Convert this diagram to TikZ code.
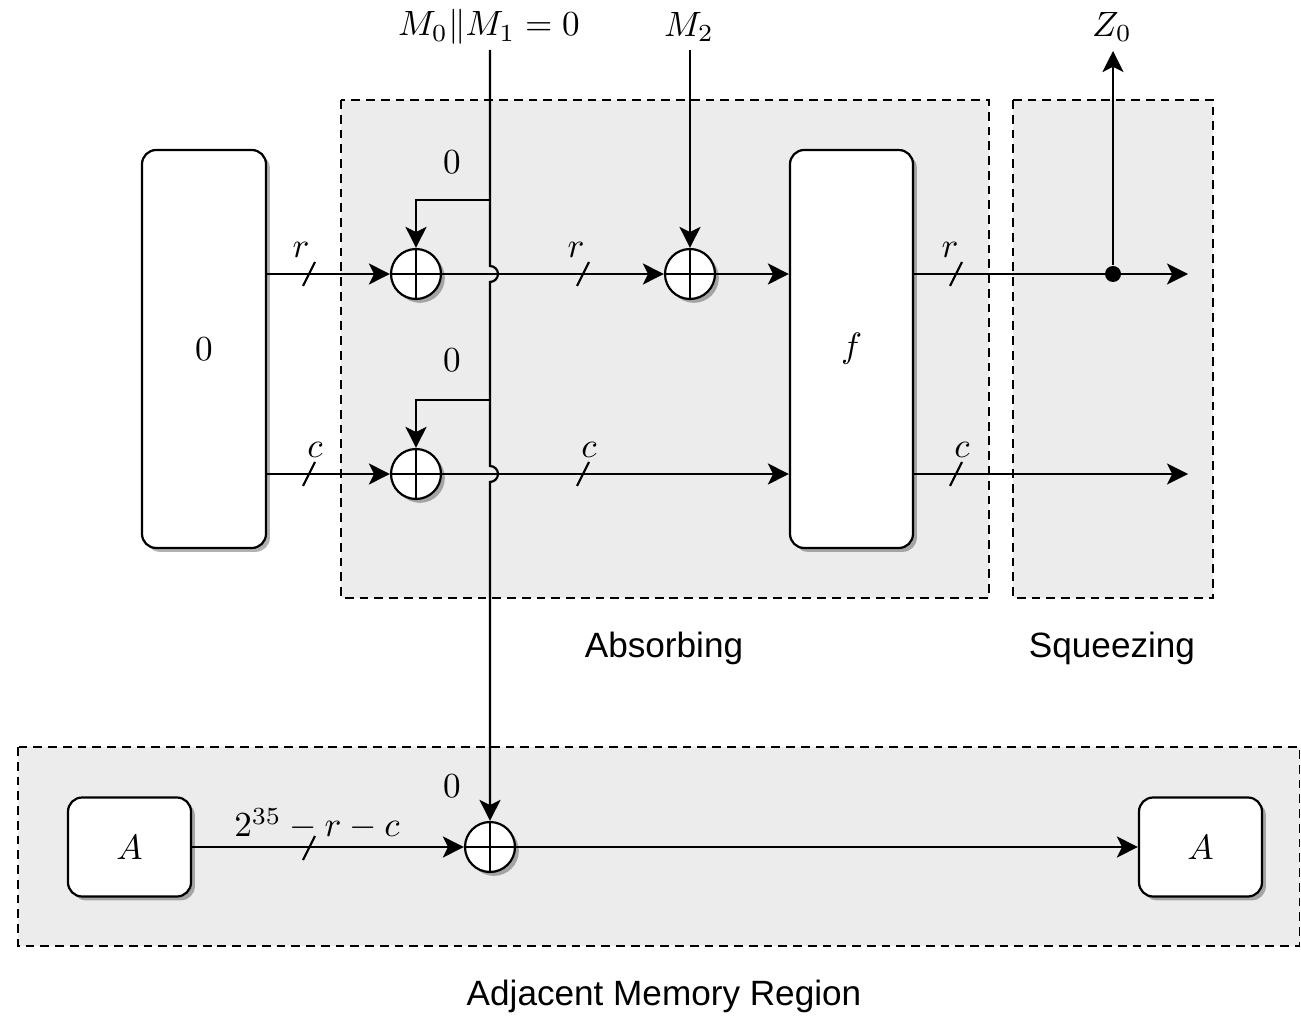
\documentclass[tikz,border=0pt]{standalone}
\usepackage{fontspec}
\newfontfamily\lsans{Liberation Sans}
\usetikzlibrary{arrows.meta,shadows,calc}
\newcommand{\mt}[1]{\scalebox{2}{$#1$}}
\begin{document}
\begin{tikzpicture}[x=0.02cm,y=-0.02cm, line width=1.25pt,
  every node/.style={font=\normalsize},
  arr/.style={-{Stealth[length=12pt,width=12pt,inset=3pt]}},
  region/.style={draw,fill=gray!15,line width=1.1pt,dash pattern=on 5pt off 3.4pt},
  shad/.style={drop shadow={shadow xshift=2.2pt,shadow yshift=-2.2pt,opacity=0.3,fill=black}},
  blk/.style={draw,fill=white,rounded corners=8pt,inner sep=0pt,shad},
  xor/.style={draw,fill=white,circle,minimum size=1cm,inner sep=0pt,shad,
    path picture={\draw[line width=1.25pt] (path picture bounding box.north) -- (path picture bounding box.south)
      (path picture bounding box.west) -- (path picture bounding box.east);}},
  dot/.style={circle,fill=black,minimum size=0.32cm,inner sep=0pt},
  lbl/.style={inner sep=0pt},
  sans/.style={inner sep=0pt,font=\fontsize{20}{24}\selectfont\lsans},
  slash/.pic={\draw (-6,12) -- (6,-12);}
]
\useasboundingbox (0,0) rectangle (1301,1016);

% regions
\path[region] (341,100) rectangle (989,598);
\path[region] (1013,100) rectangle (1213,598);
\path[region] (18,747) rectangle (1299.5,946);

\node[sans] (tabs) at (664,648) {Absorbing};
\node[sans] (tsq) at (1112,648) {Squeezing};
\node[sans] (tadj) at (664,996) {Adjacent Memory Region};

% blocks
\node[blk,minimum width=2.48cm,minimum height=7.96cm] (b0) at (204,349) {\mt{0}};
\node[blk,minimum width=2.46cm,minimum height=7.96cm] (f) at (851.5,349) {\mt{f}};
\node[blk,minimum width=2.46cm,minimum height=1.98cm] (a1) at (129.5,847) {\mt{A}};
\node[blk,minimum width=2.46cm,minimum height=1.98cm] (a2) at (1200.5,847) {\mt{A}};

% xors
\node[xor] (x1) at (416,274) {};
\node[xor] (x2) at (690,274) {};
\node[xor] (x3) at (416,474) {};
\node[xor] (x4) at (490,847) {};

% coordinates
\coordinate (m01) at (490,50);
\coordinate (m2) at (690,50);
\coordinate (j1) at (490,200);
\coordinate (j2) at (490,400);
\coordinate (rout) at (1188,274);
\coordinate (cout) at (1188,474);
\coordinate (z0) at (1113,51);
\node[dot] (d) at (1113,274) {};

% top labels
\node[lbl] (lm01) at (489,27) {\mt{M_0\|M_1=0}};
\node[lbl] (lm2) at (689,27) {\mt{M_2}};
\node[lbl] (lz0) at (1112,27) {\mt{Z_0}};

% horizontal r row
\draw[arr] (b0.east |- x1) -- (x1.west);
\draw[arr] (x1.east) -- (x2.west);
\draw[arr] (x2.east) -- (f.west |- x2);
\draw[arr] (f.east |- x2) -- (rout);
\draw[arr] (d) -- (z0);

% horizontal c row
\draw[arr] (b0.east |- x3) -- (x3.west);
\draw[arr] (x3.east) -- (f.west |- x3);
\draw[arr] (f.east |- x3) -- (cout);

% bottom row
\draw[arr] (a1.east) -- (x4.west);
\draw[arr] (x4.east) -- (a2.west);

% vertical M0||M1 line with hops
\draw[arr] (m01) -- (490,266) arc[start angle=90,end angle=-90,radius=4.54pt]
  -- (490,466) arc[start angle=90,end angle=-90,radius=4.54pt] -- (x4.north);
\draw[arr] (j1) -| (x1.north);
\draw[arr] (j2) -| (x3.north);
\draw[arr] (m2) -- (x2.north);

% slashes
\pic at (309,274) {slash};
\pic at (583,274) {slash};
\pic at (956,274) {slash};
\pic at (309,474) {slash};
\pic at (583,474) {slash};
\pic at (956,474) {slash};
\pic at (309,848) {slash};

% slash labels
\node[lbl] (lr1) at (301,250) {\mt{r}};
\node[lbl] (lr2) at (576,250) {\mt{r}};
\node[lbl] (lr3) at (950,250) {\mt{r}};
\node[lbl] (lc1) at (315,450) {\mt{c}};
\node[lbl] (lc2) at (589,450) {\mt{c}};
\node[lbl] (lc3) at (962,450) {\mt{c}};
\node[lbl] (lw) at (317,824) {\mt{2^{35}-r-c}};

% zero labels
\node[lbl] (z1) at (452,162) {\mt{0}};
\node[lbl] (z2) at (452,360) {\mt{0}};
\node[lbl] (z3) at (452,786) {\mt{0}};
\end{tikzpicture}
\end{document}
